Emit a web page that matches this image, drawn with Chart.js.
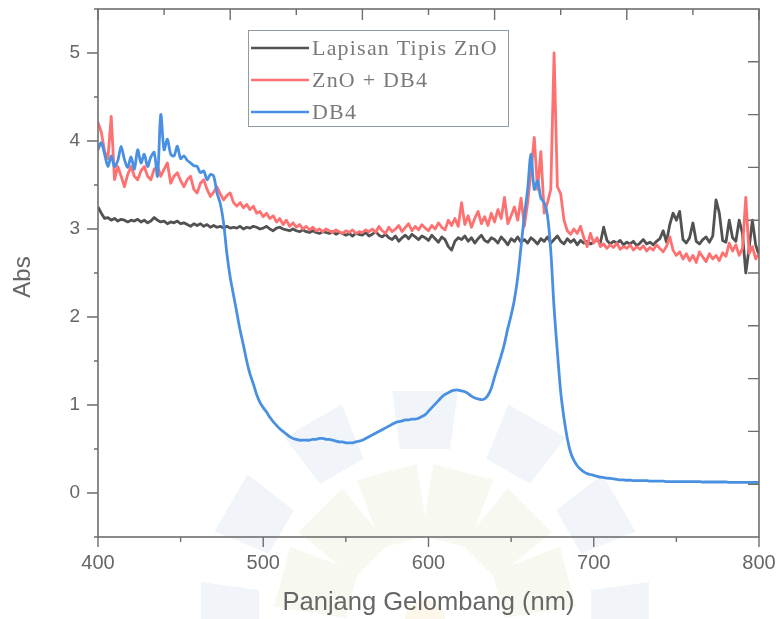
<!DOCTYPE html>
<html><head><meta charset="utf-8">
<script src="https://cdn.jsdelivr.net/npm/chart.js@4.4.0/dist/chart.umd.min.js"></script>
<style>html,body{margin:0;padding:0;background:#fff;}#wrap{width:780px;height:619px;}</style>
</head><body><div id="wrap"><canvas id="c" width="780" height="619"></canvas></div>
<script>
// ---- data ----
const wavelengths = [
400,402,404,406,408,410,412,414,416,418,
420,422,424,426,428,430,432,434,436,438,
440,442,444,446,448,450,452,454,456,458,
460,462,464,466,468,470,472,474,476,478,
480,482,484,486,488,490,492,494,496,498,
500,502,504,506,508,510,512,514,516,518,
520,522,524,526,528,530,532,534,536,538,
540,542,544,546,548,550,552,554,556,558,
560,562,564,566,568,570,572,574,576,578,
580,582,584,586,588,590,592,594,596,598,
600,602,604,606,608,610,612,614,616,618,
620,622,624,626,628,630,632,634,636,638,
640,642,644,646,648,650,652,654,656,658,
660,662,664,666,668,670,672,674,676,678,
680,682,684,686,688,690,692,694,696,698,
700,702,704,706,708,710,712,714,716,718,
720,722,724,726,728,730,732,734,736,738,
740,742,744,746,748,750,752,754,756,758,
760,762,764,766,768,770,772,774,776,778,
780,782,784,786,788,790,792,794,796,798,
800];
const lapisanTipisZnO = [
3.25,3.18,3.12,3.13,3.10,3.12,3.09,3.11,3.10,3.08,
3.10,3.09,3.11,3.08,3.10,3.07,3.09,3.13,3.10,3.08,
3.09,3.06,3.08,3.07,3.09,3.06,3.07,3.05,3.03,3.06,
3.04,3.06,3.03,3.05,3.02,3.04,3.02,3.03,3.01,3.03,
3.01,3.02,3.01,3.03,3.00,3.02,3.01,3.03,3.02,3.00,
3.01,3.03,3.00,2.98,3.01,3.02,3.00,2.99,2.98,3.00,
2.98,2.97,2.99,2.97,2.96,2.98,2.96,2.95,2.97,2.96,
2.95,2.97,2.94,2.96,2.95,2.93,2.95,2.92,2.95,2.94,
2.93,2.96,2.92,2.94,2.97,2.93,2.91,2.94,2.90,2.88,
2.92,2.86,2.90,2.93,2.89,2.94,2.91,2.88,2.92,2.90,
2.87,2.93,2.89,2.85,2.91,2.88,2.80,2.76,2.86,2.90,
2.88,2.92,2.86,2.90,2.84,2.89,2.93,2.87,2.85,2.90,
2.88,2.84,2.91,2.87,2.82,2.89,2.86,2.91,2.85,2.88,
2.84,2.90,2.87,2.83,2.89,2.86,2.91,2.84,2.88,2.92,
2.86,2.83,2.89,2.85,2.88,2.82,2.87,2.84,2.86,2.83,
2.85,2.88,2.84,3.02,2.87,2.83,2.86,2.84,2.87,2.82,
2.85,2.83,2.86,2.81,2.84,2.88,2.83,2.85,2.82,2.86,
2.89,2.98,2.85,3.05,3.18,3.10,3.20,2.88,2.84,2.90,
3.07,2.86,2.83,2.88,2.91,2.85,2.92,3.33,3.18,2.87,
2.85,3.10,2.90,2.86,3.10,2.95,2.50,2.78,3.10,2.82,
2.70];
const znoDB4 = [
4.21,4.10,3.88,3.80,4.28,3.56,3.71,3.60,3.48,3.62,
3.71,3.60,3.56,3.66,3.71,3.60,3.56,3.68,3.71,3.60,
3.68,3.75,3.52,3.60,3.64,3.55,3.48,3.56,3.60,3.45,
3.41,3.52,3.56,3.45,3.37,3.42,3.48,3.40,3.33,3.38,
3.41,3.30,3.26,3.30,3.24,3.28,3.22,3.26,3.18,3.20,
3.14,3.18,3.12,3.15,3.08,3.12,3.05,3.10,3.03,3.07,
3.02,3.05,3.00,3.03,2.99,3.02,2.98,3.00,2.97,3.00,
2.98,2.96,2.99,2.97,2.95,2.98,2.96,2.99,2.95,2.97,
2.96,2.99,2.97,3.00,2.96,3.03,2.98,2.95,3.02,2.97,
3.00,3.04,2.97,3.02,3.06,2.98,3.03,2.99,3.05,3.01,
2.98,3.04,3.00,3.07,3.02,2.99,3.10,3.04,3.12,3.03,
3.30,3.05,3.15,3.02,3.12,3.20,3.06,3.14,3.04,3.18,
3.08,3.22,3.12,3.36,3.06,3.15,3.25,3.10,3.35,3.03,
3.30,3.65,4.04,3.45,3.88,3.18,3.30,3.45,5.00,3.48,
3.40,3.10,2.98,2.94,3.00,2.95,3.03,2.90,2.80,2.95,
2.84,2.90,2.80,2.83,2.78,2.82,2.79,2.84,2.77,2.80,
2.78,2.82,2.76,2.80,2.77,2.81,2.75,2.79,2.76,2.82,
2.78,2.74,2.80,2.91,2.76,2.70,2.74,2.66,2.72,2.64,
2.70,2.62,2.74,2.68,2.63,2.72,2.66,2.70,2.64,2.73,
2.69,2.84,2.75,2.82,2.70,2.78,3.36,2.72,2.80,2.66,
2.72];
const db4 = [
3.90,3.98,3.85,3.71,3.83,3.71,3.78,3.94,3.79,3.70,
3.82,3.68,3.90,3.75,3.85,3.71,3.82,3.87,3.60,4.30,
3.90,4.02,3.85,3.83,3.94,3.80,3.83,3.78,3.75,3.72,
3.71,3.64,3.66,3.56,3.62,3.60,3.41,3.29,3.07,2.72,
2.45,2.25,2.05,1.85,1.68,1.50,1.35,1.24,1.12,1.03,
0.97,0.92,0.86,0.81,0.77,0.73,0.70,0.67,0.64,0.62,
0.61,0.60,0.60,0.60,0.60,0.61,0.61,0.62,0.62,0.61,
0.61,0.60,0.59,0.58,0.58,0.57,0.57,0.57,0.58,0.59,
0.60,0.62,0.64,0.66,0.68,0.70,0.72,0.74,0.76,0.78,
0.80,0.81,0.82,0.83,0.83,0.84,0.84,0.85,0.87,0.89,
0.93,0.97,1.01,1.05,1.09,1.12,1.14,1.16,1.17,1.17,
1.16,1.15,1.13,1.10,1.08,1.07,1.06,1.07,1.11,1.19,
1.32,1.44,1.56,1.70,1.87,2.02,2.20,2.45,2.80,3.15,
3.45,3.85,3.45,3.55,3.35,3.30,3.15,2.75,2.10,1.60,
1.15,0.85,0.62,0.46,0.37,0.31,0.27,0.24,0.22,0.21,
0.20,0.19,0.18,0.175,0.17,0.165,0.16,0.155,0.15,0.15,
0.145,0.145,0.14,0.14,0.14,0.14,0.14,0.135,0.135,0.135,
0.135,0.135,0.13,0.13,0.13,0.13,0.13,0.13,0.13,0.13,
0.13,0.13,0.13,0.125,0.125,0.125,0.125,0.125,0.125,0.125,
0.125,0.12,0.12,0.12,0.12,0.12,0.12,0.12,0.12,0.12,
0.12];
const seriesLabels = ['Lapisan Tipis ZnO', 'ZnO + DB4', 'DB4'];
const xTickValues = [400, 500, 600, 700, 800];
const yTickValues = [0, 1, 2, 3, 4, 5];
const xTitle = 'Panjang Gelombang (nm)';
const yTitle = 'Abs';

// ---- chart ----
const colors = ['#525252', '#ff7070', '#4a90e2'];
const series = [lapisanTipisZnO, znoDB4, db4];
const datasets = series.map((s, k) => ({
  label: seriesLabels[k],
  data: wavelengths.map((w, i) => ({ x: w, y: s[i] })),
  borderColor: colors[k],
  backgroundColor: colors[k],
  borderWidth: 2.8,
  pointRadius: 0,
  tension: k === 2 ? 0.3 : 0,
  order: 3 - k,
  borderJoinStyle: 'round'
}));

const TXT = '#666666';

function noPad(s) { s.paddingLeft = 0; s.paddingRight = 0; s.paddingTop = 0; s.paddingBottom = 0; }

const decor = {
  id: 'decor',
  beforeDraw(chart) {
    const ctx = chart.ctx;
    ctx.save();
    ctx.fillStyle = '#ffffff';
    ctx.fillRect(0, 0, chart.width, chart.height);
    // faint watermark logo
    const cx = 425, cy = 615;
    function tile(r, angDeg, w, h, col) {
      const a = angDeg * Math.PI / 180;
      ctx.save();
      ctx.translate(cx + r * Math.cos(a), cy + r * Math.sin(a));
      ctx.rotate(a + Math.PI / 2);
      ctx.fillStyle = col;
      ctx.beginPath();
      ctx.moveTo(-w / 2, -h / 2);
      ctx.lineTo(w / 2, -h / 2);
      ctx.lineTo(w * 0.38, h / 2);
      ctx.lineTo(-w * 0.38, h / 2);
      ctx.closePath();
      ctx.fill();
      ctx.restore();
    }
    [-180, -150, -120, -90, -60, -30, 0].forEach(a => tile(195, a, 66, 58, '#f1f5fa'));
    [-165, -135, -105, -75, -45, -15].forEach(a => tile(112, a, 62, 72, '#f7f9f1'));
    ctx.fillStyle = '#fcf7ea';
    ctx.beginPath(); ctx.arc(cx, cy + 5, 20, 0, Math.PI * 2); ctx.fill();
    ctx.restore();
  },
  afterDraw(chart) {
    const ctx = chart.ctx;
    const xs = chart.scales.x, ys = chart.scales.y;
    const L = chart.chartArea.left, R = chart.chartArea.right, T = chart.chartArea.top, B = chart.chartArea.bottom;
    ctx.save();
    ctx.strokeStyle = '#6e6e6e';
    ctx.lineWidth = 1.6;
    ctx.strokeRect(L, T, R - L, B - T);
    ctx.lineWidth = 1.4;
    ctx.beginPath();
    // bottom ticks (outward)
    for (let v = 400; v <= 800; v += 50) {
      const p = xs.getPixelForValue(v);
      const len = (v % 100 === 0) ? 10 : 5;
      ctx.moveTo(p, B); ctx.lineTo(p, B + len);
    }
    // top ticks (inward)
    for (let v = 400; v <= 800; v += 40) {
      const p = xs.getPixelForValue(v);
      const len = ((v - 400) % 80 === 0) ? 11 : 6;
      ctx.moveTo(p, T); ctx.lineTo(p, T + len);
    }
    // left ticks (outward)
    for (let v = -0.5; v <= 5.5; v += 0.5) {
      const p = ys.getPixelForValue(v);
      const len = Number.isInteger(v) ? 11 : 4;
      ctx.moveTo(L, p); ctx.lineTo(L - len, p);
    }
    // right ticks (inward)
    for (let k = 0; k <= 8; k++) {
      const p = ys.getPixelForValue(0.1 + 0.6 * k);
      ctx.moveTo(R, p); ctx.lineTo(R - 11, p);
    }
    ctx.stroke();

    // axis titles
    ctx.fillStyle = TXT;
    ctx.font = '25.5px "Liberation Sans", Arial, sans-serif';
    ctx.textAlign = 'center';
    ctx.textBaseline = 'middle';
    ctx.fillText(xTitle, 428.5, 603);
    ctx.save();
    ctx.translate(23, (T + B) / 2 + 4);
    ctx.rotate(-Math.PI / 2);
    ctx.font = '24px "Liberation Sans", Arial, sans-serif';
    ctx.fillText(yTitle, 0, 0);
    ctx.restore();

    // legend
    const bx = 248, by = 30, bw = 260, bh = 96;
    ctx.fillStyle = '#ffffff';
    ctx.fillRect(bx, by, bw, bh);
    ctx.strokeStyle = '#8d9ba6';
    ctx.lineWidth = 1;
    ctx.strokeRect(bx + 0.5, by + 0.5, bw, bh);
    ctx.font = '22px "Liberation Serif", "Times New Roman", serif';
    ctx.textAlign = 'left';
    ctx.textBaseline = 'middle';
    try { ctx.letterSpacing = '1.2px'; } catch (e) {}
    chart.data.datasets.forEach((ds, i) => {
      const yy = 48 + i * 32;
      ctx.strokeStyle = ds.borderColor;
      ctx.lineWidth = 2.6;
      ctx.beginPath(); ctx.moveTo(251, yy); ctx.lineTo(309, yy); ctx.stroke();
      ctx.fillStyle = '#7a7a7a';
      ctx.fillText(ds.label, 312, yy + 1);
    });
    ctx.restore();
  }
};

new Chart(document.getElementById('c'), {
  type: 'line',
  data: { datasets },
  options: {
    responsive: false,
    animation: false,
    devicePixelRatio: 1,
    layout: { padding: { left: 0, right: 21, top: 9, bottom: 0 } },
    plugins: { legend: { display: false }, tooltip: { enabled: false } },
    scales: {
      x: {
        type: 'linear', min: 400, max: 800,
        afterBuildTicks: s => { s.ticks = xTickValues.map(v => ({ value: v })); },
        afterFit: s => { s.height = 82; noPad(s); },
        grid: { display: false, drawTicks: false },
        border: { display: false },
        ticks: { color: TXT, padding: 14, font: { family: '"Liberation Sans", Arial, sans-serif', size: 20 }, maxRotation: 0 }
      },
      y: {
        type: 'linear', min: -0.5, max: 5.5,
        afterBuildTicks: s => { s.ticks = yTickValues.map(v => ({ value: v })); },
        afterFit: s => { s.width = 98; noPad(s); },
        grid: { display: false, drawTicks: false },
        border: { display: false },
        ticks: { color: TXT, padding: 18, font: { family: '"Liberation Sans", Arial, sans-serif', size: 19 } }
      }
    }
  },
  plugins: [decor]
});
</script></body></html>
